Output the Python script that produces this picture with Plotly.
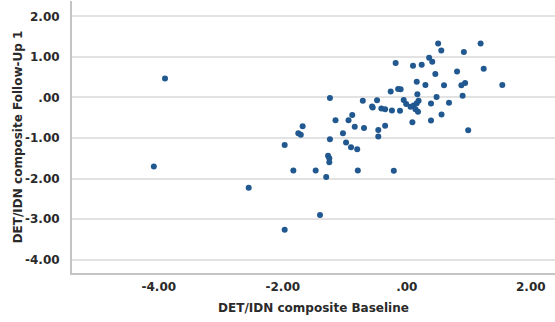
import plotly.graph_objects as go

baseline = [0.505, 0.556, 1.19, 0.92, -0.18, 0.10, 0.24, 0.36, 0.41, 1.24,
            0.81, 0.46, 0.16, 0.30, 0.60, 0.88, 0.94, 1.54, -0.26, -0.14,
            -0.10, 0.17, 0.48, 0.90, -1.24, -0.71, -0.48, -0.05, -0.01, 0.19,
            0.39, 0.68, -0.56, -0.55, -0.41, -0.35, -0.24, -0.11, 0.06, 0.11,
            0.14, 0.18, 0.16, 0.56, 0.39, 0.09, -1.15, -0.94, -0.88, -0.84,
            -0.69, -0.46, -0.35, -0.46, 0.99, -1.03, -1.24, -0.98, -0.90, -0.80,
            -1.68, -1.75, -1.71, -1.97, -1.27, -1.25, -1.25, -1.83, -1.47, -1.30,
            -0.79, -0.21, -1.40, -1.97, -4.08, -2.55, -3.90]
followup = [1.33, 1.16, 1.33, 1.12, 0.85, 0.78, 0.81, 0.98, 0.88, 0.71,
            0.64, 0.58, 0.39, 0.31, 0.30, 0.30, 0.36, 0.31, 0.15, 0.21,
            0.20, 0.08, 0.01, 0.04, -0.01, -0.08, -0.07, -0.06, -0.16, -0.08,
            -0.15, -0.13, -0.22, -0.25, -0.27, -0.29, -0.32, -0.33, -0.23, -0.20,
            -0.29, -0.35, -0.14, -0.42, -0.57, -0.61, -0.56, -0.56, -0.43, -0.72,
            -0.75, -0.80, -0.70, -0.96, -0.81, -0.88, -1.03, -1.11, -1.23, -1.28,
            -0.71, -0.88, -0.92, -1.17, -1.44, -1.50, -1.60, -1.80, -1.80, -1.96,
            -1.80, -1.81, -2.90, -3.26, -1.70, -2.23, 0.47]

x_tickvals = [-4, -2, 0, 2]
x_ticktext = ["-4.00", "-2.00", ".00", "2.00"]
y_tickvals = [-4, -3, -2, -1, 0, 1, 2]
y_ticktext = ["-4.00", "-3.00", "-2.00", "-1.00", ".00", "1.00", "2.00"]

font_family = "DejaVu Sans, Arial, sans-serif"
bold = dict(family=font_family, size=12, color="#2a2a2a", weight="bold")

fig = go.Figure()
fig.add_trace(go.Scatter(
    x=baseline, y=followup, mode="markers",
    marker=dict(size=6, color="#21588f", line=dict(width=0)),
    showlegend=False, hoverinfo="skip"))

fig.update_layout(
    width=555, height=322,
    margin=dict(l=72, r=0, t=1, b=49),
    paper_bgcolor="white", plot_bgcolor="white",
    font=dict(family=font_family, size=12, color="#222222"),
    xaxis=dict(
        range=[-5.40, 2.39],
        tickvals=x_tickvals, ticktext=x_ticktext,
        tickfont=bold,
        showgrid=False, zeroline=False,
        showline=True, linecolor="#c4c4c4", linewidth=2,
        ticks="", ticklabelstandoff=2,
        title=dict(text="DET/IDN composite Baseline", font=bold, standoff=10),
    ),
    yaxis=dict(
        range=[-4.33, 2.38],
        tickvals=y_tickvals, ticktext=y_ticktext,
        tickfont=bold,
        showgrid=True, gridcolor="#e2e2e2", gridwidth=2,
        zeroline=False,
        showline=True, linecolor="#c4c4c4", linewidth=2,
        ticks="", ticklabelstandoff=8,
        title=dict(text="DET/IDN composite Follow-Up 1", font=bold, standoff=0),
    ),
)

fig.write_html("out.html",
               config={"displayModeBar": False},
               post_script="document.body.style.margin='0px';document.body.style.overflow='hidden';")
